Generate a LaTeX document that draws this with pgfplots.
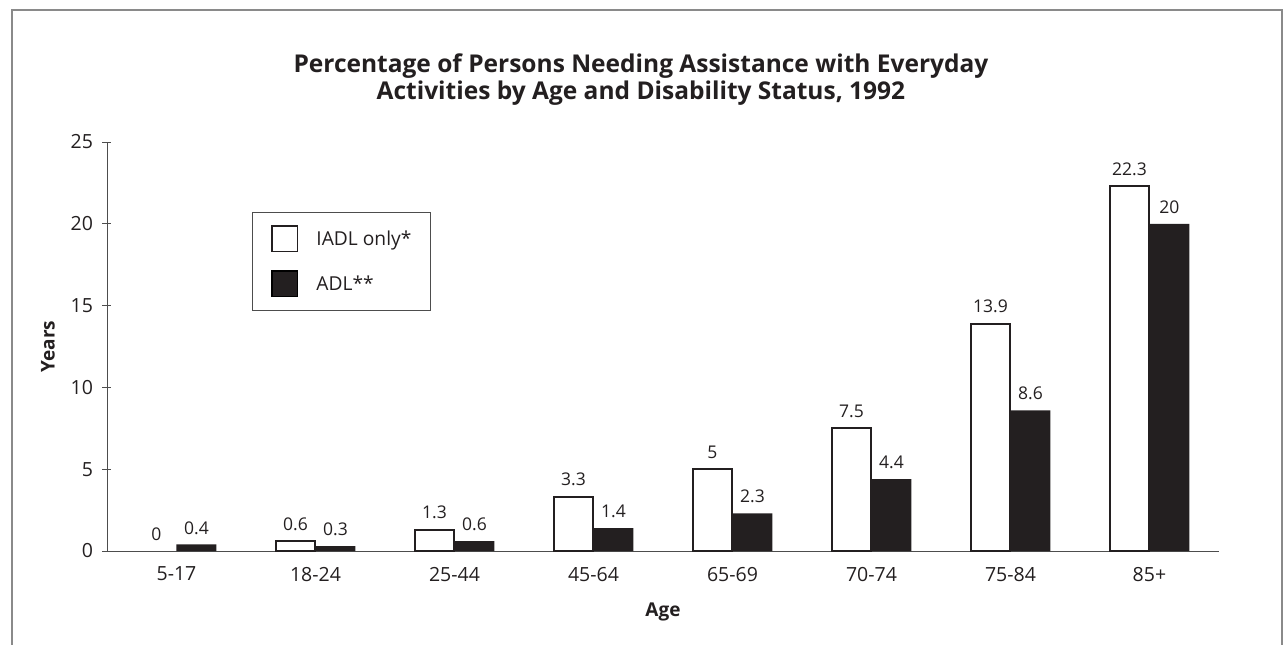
\documentclass[border=0pt]{standalone}
\usepackage{fontspec}
\setmainfont{Open Sans}
\usepackage{pgfplots}
\pgfplotsset{compat=1.18}
\definecolor{ink}{HTML}{231F20}
\definecolor{axisgray}{HTML}{4D4D4D}
\definecolor{framegray}{HTML}{8A8A8A}
\newcommand{\legendfont}{\fontsize{19.2}{22}\selectfont}

\begin{document}
\begin{tikzpicture}
\useasboundingbox (0pt,0pt) rectangle (1283pt,-645pt);
% open frame round the figure
\draw[draw=framegray, line width=1.3pt] (12pt,-645pt) -- (12pt,-10pt) -- (1282pt,-10pt) -- (1282pt,-645pt);
\begin{axis}[
  at={(107pt,-551pt)}, anchor=south west,
  width=1112pt, height=409pt, scale only axis,
  xmin=-0.5, xmax=7.5, ymin=0, ymax=25,
  axis x line*=bottom, axis y line*=left,
  axis line style={draw=axisgray, line width=0.9pt},
  /pgf/number format/assume math mode=true,
  tick align=center,
  xtick pos=bottom, ytick pos=left,
  ytick={0,5,10,15,20,25},
  major tick length=9pt,
  minor tick length=9pt,
  xtick={0,1,2,3,4,5,6,7},
  xticklabels={5-17,18-24,25-44,45-64,65-69,70-74,75-84,85+},
  minor xtick={-0.5,0.5,1.5,2.5,3.5,4.5,5.5,6.5,7.5},
  xtick style={draw=none},
  minor tick style={draw=axisgray, line width=0.9pt},
  ytick style={draw=axisgray, line width=0.9pt},
  tick label style={font=\fontsize{19.5}{23}\selectfont, text=ink},
  xticklabel style={yshift=-8pt},
  yticklabel style={xshift=-6pt},
  title={Percentage of Persons Needing Assistance with Everyday\\Activities by Age and Disability Status, 1992},
  title style={font=\bfseries\fontsize{24.5}{27}\selectfont, align=center, text=ink,
    at={(axis description cs:0.4802,1.138)}, anchor=center},
  xlabel={Age},
  xlabel style={font=\bfseries\fontsize{19}{22}\selectfont, text=ink,
    at={(axis description cs:0.5,-0.149)}, anchor=center},
  ylabel={Years},
  ylabel style={font=\bfseries\fontsize{19}{22}\selectfont, text=ink,
    at={(axis description cs:-0.0531,0.5)}, anchor=center},
  legend style={at={(axis description cs:0.1304,0.8289)}, anchor=north west,
    draw=axisgray, line width=0.9pt, inner xsep=19pt, inner ysep=13pt,
    row sep=18pt, font=\legendfont, text=ink,
    nodes={inner sep=0pt, font=\legendfont}},
  legend cell align=left,
  legend image code/.code={%
    \draw[#1, line width=1.8pt] (0.9pt,-12.6pt) rectangle (26.1pt,12.6pt);
    \path[draw=none, fill=none] (45pt,0pt) circle (0pt);},
  every node near coord/.append style={font=\fontsize{17.5}{20}\selectfont, text=ink,
    anchor=south, inner sep=0pt, yshift=10pt},
]
% IADL only (white bars); the zero bar carries only its label
\addplot[ybar, bar width=38.4pt, bar shift=-20pt, fill=white, draw=ink, line width=1.8pt,
  nodes near coords, every node near coord/.append style={xshift=-20pt}]
  coordinates {(1,0.6) (2,1.3) (3,3.3) (4,5) (5,7.5) (6,13.9) (7,22.3)};
\addlegendentry{IADL only*}
% ADL (black bars)
\addplot[ybar, bar width=40pt, bar shift=20pt, fill=ink, draw=none,
  nodes near coords, every node near coord/.append style={xshift=20pt}]
  coordinates {(0,0.4) (1,0.3) (2,0.6) (3,1.4) (4,2.3) (5,4.4) (6,8.6) (7,20)};
\addlegendentry{ADL**}
\addplot[ybar, bar width=40pt, bar shift=-20pt, draw=none, fill=none,
  nodes near coords, every node near coord/.append style={xshift=-20pt}, forget plot]
  coordinates {(0,0)};
\end{axis}
\end{tikzpicture}
\end{document}
